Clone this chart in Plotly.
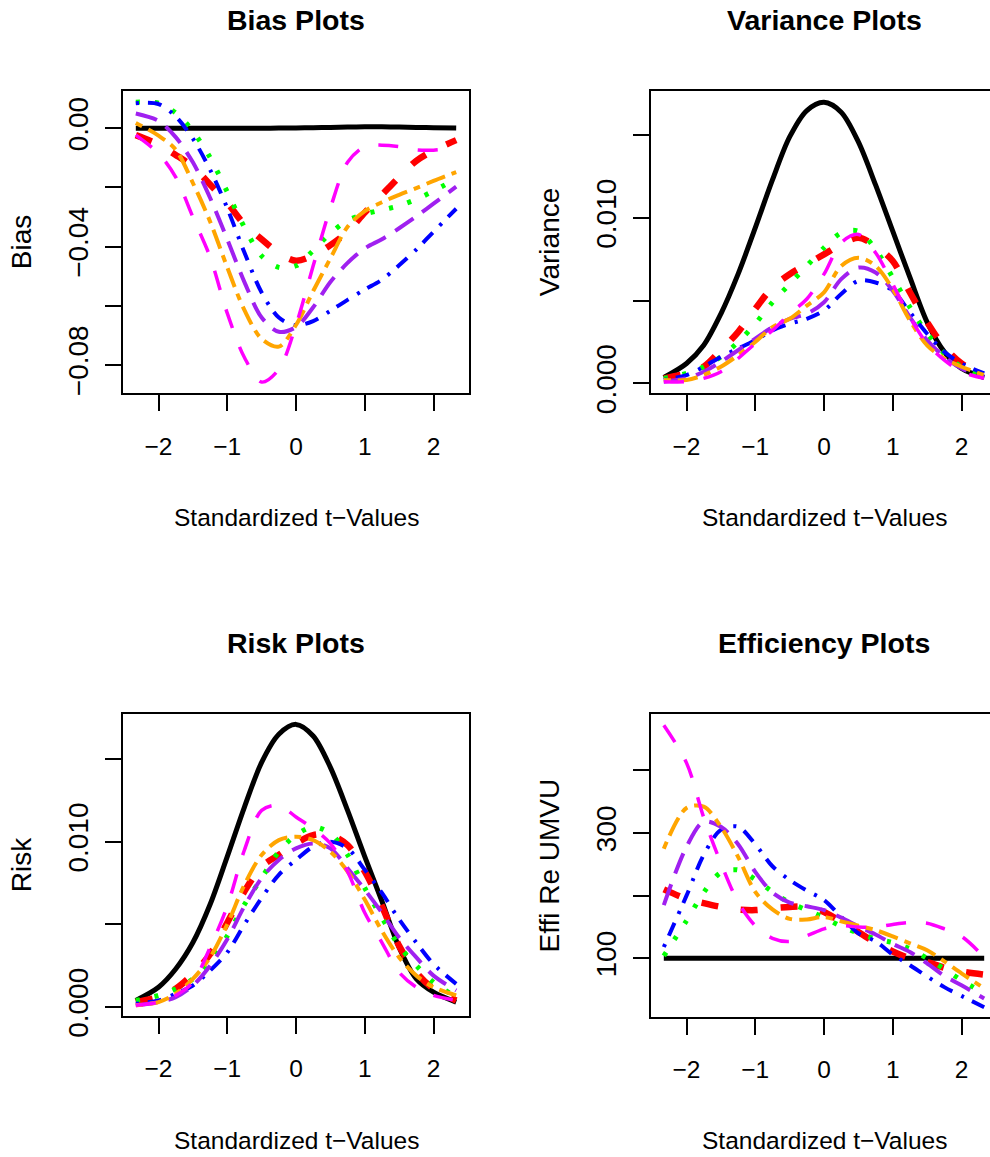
import plotly.graph_objects as go

W, H = 990, 1157

# Standardized t-values at which every estimator was evaluated
t_values = [-2.33, -2.0, -1.75, -1.5, -1.25, -1.0, -0.75, -0.5, -0.25, 0.0,
            0.25, 0.5, 0.75, 1.0, 1.25, 1.5, 1.75, 2.0, 2.33]

# ---- Bias ----
bias_umvu = [0.0, 0.0, 0.0, 0.0, 0.0, 0.0, 0.0, 0.0, 0.0001, 0.0001,
             0.0002, 0.0003, 0.0004, 0.0005, 0.0005, 0.0004, 0.0003, 0.0002, 0.0001]
bias_red = [-0.0023, -0.0055, -0.0090, -0.0130, -0.0190, -0.0252, -0.0325, -0.0375, -0.0422, -0.0448,
            -0.0430, -0.0395, -0.0350, -0.0285, -0.0225, -0.0165, -0.0110, -0.0075, -0.0040]
bias_green = [0.0088, 0.0085, 0.0052, -0.0010, -0.0099, -0.0215, -0.0335, -0.0432, -0.0470, -0.0465,
              -0.0413, -0.0355, -0.0312, -0.0290, -0.0276, -0.0262, -0.0240, -0.0212, -0.0170]
bias_blue = [0.0085, 0.0082, 0.0040, -0.0035, -0.0140, -0.0270, -0.0420, -0.0555, -0.0640, -0.0666,
             -0.0652, -0.0617, -0.0580, -0.0545, -0.0512, -0.0463, -0.0410, -0.0350, -0.0272]
bias_purple = [0.0050, 0.0025, -0.0030, -0.0115, -0.0235, -0.0375, -0.0520, -0.0640, -0.0688, -0.0672,
               -0.0605, -0.0520, -0.0455, -0.0406, -0.0375, -0.0338, -0.0298, -0.0255, -0.0197]
bias_orange = [0.0018, -0.0025, -0.0072, -0.0185, -0.0315, -0.0470, -0.0615, -0.0712, -0.0738, -0.0665,
               -0.0550, -0.0440, -0.0333, -0.0280, -0.0250, -0.0225, -0.0202, -0.0178, -0.0148]
bias_magenta = [-0.0023, -0.0085, -0.0165, -0.0300, -0.0435, -0.0625, -0.0775, -0.0858, -0.0815, -0.0665,
                -0.0465, -0.0270, -0.0115, -0.0062, -0.0057, -0.0062, -0.0073, -0.0074, -0.0065]

# ---- Variance ----
var_umvu = [0.00035, 0.0012, 0.0023, 0.0042, 0.0066, 0.0094, 0.0123, 0.0149, 0.0165, 0.0170,
            0.0164, 0.0146, 0.0120, 0.0092, 0.0064, 0.0037, 0.0019, 0.0009, 0.00035]
var_red = [0.0003, 0.0006, 0.0010, 0.0020, 0.0031, 0.0045, 0.0058, 0.0066, 0.0072, 0.0078,
           0.0084, 0.0088, 0.0083, 0.0074, 0.0055, 0.0037, 0.0022, 0.0012, 0.0005]
var_green = [0.0003, 0.0006, 0.0010, 0.0016, 0.0025, 0.0036, 0.0049, 0.0060, 0.0071, 0.0082,
             0.0091, 0.0092, 0.0081, 0.0064, 0.0046, 0.0030, 0.0018, 0.0010, 0.0004]
var_blue = [0.0002, 0.0005, 0.0010, 0.0016, 0.0021, 0.0026, 0.0032, 0.0036, 0.0039, 0.0044,
            0.0054, 0.0062, 0.0061, 0.0056, 0.0043, 0.0030, 0.0019, 0.0012, 0.0006]
var_purple = [0.0001, 0.0003, 0.0007, 0.0013, 0.0020, 0.0027, 0.0034, 0.0039, 0.0042, 0.0049,
              0.0063, 0.0070, 0.0067, 0.0056, 0.0040, 0.0026, 0.0016, 0.0009, 0.0004]
var_orange = [0.0002, 0.0002, 0.0005, 0.0010, 0.0017, 0.0025, 0.0034, 0.0039, 0.0047, 0.0055,
              0.0071, 0.0076, 0.0071, 0.0057, 0.0038, 0.0023, 0.0015, 0.0010, 0.0005]
var_magenta = [0.0001, 0.0001, 0.0003, 0.0007, 0.0015, 0.0024, 0.0032, 0.0042, 0.0051, 0.0066,
               0.0085, 0.0090, 0.0079, 0.0060, 0.0040, 0.0024, 0.0014, 0.0007, 0.0003]

# ---- Risk ----
risk_umvu = [0.0004, 0.0012, 0.0023, 0.0039, 0.0062, 0.0091, 0.0121, 0.0148, 0.0165, 0.0171,
             0.0164, 0.0145, 0.0119, 0.0091, 0.0064, 0.0036, 0.0017, 0.0009, 0.0003]
risk_red = [0.0003, 0.0006, 0.0011, 0.0020, 0.0032, 0.0051, 0.0070, 0.0085, 0.0092, 0.0099,
            0.0104, 0.0104, 0.0098, 0.0082, 0.0061, 0.0037, 0.0021, 0.0011, 0.0004]
risk_green = [0.0004, 0.0007, 0.0011, 0.0017, 0.0027, 0.0043, 0.0062, 0.0078, 0.0094, 0.0104,
              0.0109, 0.0105, 0.0092, 0.0072, 0.0054, 0.0037, 0.0025, 0.0015, 0.0006]
risk_blue = [0.0002, 0.0004, 0.0008, 0.0013, 0.0022, 0.0033, 0.0050, 0.0066, 0.0080, 0.0089,
             0.0097, 0.0100, 0.0096, 0.0083, 0.0069, 0.0053, 0.0039, 0.0026, 0.0014]
risk_purple = [0.0001, 0.0003, 0.0006, 0.0013, 0.0025, 0.0041, 0.0061, 0.0078, 0.0089, 0.0096,
               0.0099, 0.0096, 0.0084, 0.0071, 0.0057, 0.0042, 0.0030, 0.0019, 0.0010]
risk_orange = [0.0001, 0.0003, 0.0008, 0.0017, 0.0030, 0.0050, 0.0074, 0.0092, 0.0101, 0.0103,
               0.0101, 0.0094, 0.0082, 0.0065, 0.0046, 0.0030, 0.0019, 0.0012, 0.0007]
risk_magenta = [0.0001, 0.0003, 0.0007, 0.0015, 0.0036, 0.0061, 0.0095, 0.0119, 0.0122, 0.0115,
                0.0108, 0.0099, 0.0082, 0.0057, 0.0039, 0.0021, 0.0012, 0.0007, 0.0004]

# ---- Efficiency relative to UMVU (%) ----
eff_umvu = [100] * 19
eff_red = [210, 195, 188, 182, 178, 177, 180, 182, 182, 174,
           158, 142, 125, 111, 100, 94, 85, 79, 74]
eff_green = [104, 160, 205, 237, 241, 226, 206, 189, 177, 165,
             151, 140, 131, 125, 115, 100, 83, 65, 44]
eff_blue = [118, 200, 265, 305, 310, 282, 247, 225, 208, 193,
            166, 140, 127, 106, 89, 71, 54, 40, 22]
eff_purple = [185, 278, 318, 310, 282, 238, 205, 189, 183, 177,
              165, 151, 138, 123, 110, 92, 72, 57, 36]
eff_orange = [275, 340, 342, 310, 262, 206, 178, 163, 162, 166,
              159, 152, 145, 135, 124, 113, 95, 76, 52]
eff_magenta = [472, 412, 325, 252, 190, 152, 132, 127, 136, 147,
               152, 150, 150, 154, 157, 156, 147, 135, 102]

x_ticks = [-2, -1, 0, 1, 2]
x_tick_text = ["\u22122", "\u22121", "0", "1", "2"]

# line appearance, in drawing order: UMVU first, then the competing estimators
STYLES = [
    ("black", 5.0, "solid"),
    ("#FF0000", 6.5, "17px,23px"),
    ("#00FF00", 5.0, "4px,15px"),
    ("#0000FF", 4.0, "3px,9px,14px,10px"),
    ("#A020F0", 4.0, "22px,11px"),
    ("#FFA500", 4.0, "7px,7px,20px,7px"),
    ("#FF00FF", 3.5, "20px,20px"),
]

panels = [
    dict(series=[bias_umvu, bias_red, bias_green, bias_blue, bias_purple, bias_orange, bias_magenta],
         title="Bias Plots", ylab="Bias",
         box=(123, 469, 91, 393.3), yrange=[-0.0896, 0.01261],
         yticks=[-0.08, -0.06, -0.04, -0.02, 0.0], ytext=["\u22120.08", "", "\u22120.04", "", "0.00"]),
    dict(series=[var_umvu, var_red, var_green, var_blue, var_purple, var_orange, var_magenta],
         title="Variance Plots", ylab="Variance",
         box=(651, 990, 91, 393.3), yrange=[-0.000605, 0.01768],
         yticks=[0.0, 0.005, 0.010, 0.015], ytext=["0.000", "", "0.010", ""]),
    dict(series=[risk_umvu, risk_red, risk_green, risk_blue, risk_purple, risk_orange, risk_magenta],
         title="Risk Plots", ylab="Risk",
         box=(123, 469, 714.3, 1016), yrange=[-0.000544, 0.01771],
         yticks=[0.0, 0.005, 0.010, 0.015], ytext=["0.000", "", "0.010", ""]),
    dict(series=[eff_umvu, eff_red, eff_green, eff_blue, eff_purple, eff_orange, eff_magenta],
         title="Efficiency Plots", ylab="Effi Re UMVU",
         box=(651, 990, 714.3, 1016.7), yrange=[6.8, 489.5],
         yticks=[100, 200, 300, 400], ytext=["100", "", "300", ""]),
]

FONT = "Liberation Sans, Arial, Helvetica, sans-serif"
PX_PER_UNIT = 68.75
X_LEFT = -2.5164

fig = go.Figure()
layout = dict(
    width=W, height=H,
    margin=dict(l=0, r=0, t=0, b=0, autoexpand=False),
    paper_bgcolor="white", plot_bgcolor="white",
    showlegend=False,
    font=dict(family=FONT, color="black"),
)
annotations = []

for i, p in enumerate(panels, start=1):
    sfx = "" if i == 1 else str(i)
    xa, ya = "x" + sfx, "y" + sfx
    left, right, top, bottom = p["box"]
    full_box = right < 980
    x_right = X_LEFT + (right - left) / PX_PER_UNIT

    for vals, (col, lw, dash) in zip(p["series"], STYLES):
        fig.add_trace(go.Scatter(
            x=t_values, y=vals, mode="lines", xaxis=xa, yaxis=ya,
            line=dict(color=col, width=lw, dash=dash, shape="spline", smoothing=0.9),
            hoverinfo="skip",
        ))

    layout["xaxis" + sfx] = dict(
        domain=[left / W, right / W], anchor=ya, range=[X_LEFT, x_right],
        tickvals=x_ticks, ticktext=x_tick_text, ticks="outside", ticklen=16, tickwidth=2,
        tickcolor="black", showline=True, linewidth=2, linecolor="black", mirror=True,
        showgrid=False, zeroline=False, tickfont=dict(size=24.5, family=FONT),
        ticklabelstandoff=14, automargin=False,
    )
    layout["yaxis" + sfx] = dict(
        domain=[1 - bottom / H, 1 - top / H], anchor=xa, range=p["yrange"],
        tickvals=p["yticks"], ticktext=p["ytext"], tickangle=-90,
        ticks="outside", ticklen=16, tickwidth=2, tickcolor="black",
        showline=True, linewidth=2, linecolor="black", mirror=full_box,
        showgrid=False, zeroline=False, tickfont=dict(size=28, family=FONT),
        ticklabelstandoff=6, automargin=False,
    )

    cx = (left + right) / 2 if full_box else left + (0 - X_LEFT) * PX_PER_UNIT
    cy = (top + bottom) / 2
    ylab_x = left - 102
    annotations += [
        dict(text=p["title"], x=cx / W, y=1 - (top - 71) / H, xref="paper", yref="paper",
             xanchor="center", yanchor="middle", showarrow=False,
             font=dict(size=28.5, family=FONT, weight="bold")),
        dict(text="Standardized t\u2212Values", x=cx / W, y=1 - (bottom + 124) / H,
             xref="paper", yref="paper", xanchor="center", yanchor="middle",
             showarrow=False, font=dict(size=24.5, family=FONT)),
        dict(text=p["ylab"], x=ylab_x / W, y=1 - cy / H, xref="paper", yref="paper",
             xanchor="center", yanchor="middle", textangle=-90, showarrow=False,
             font=dict(size=28, family=FONT)),
    ]

layout["annotations"] = annotations
fig.update_layout(**layout)
fig.write_html("out.html")
